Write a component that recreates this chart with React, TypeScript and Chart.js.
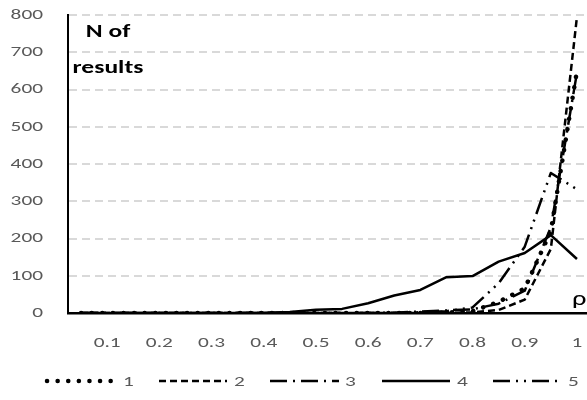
import React, { useEffect, useRef } from "react";
import { Chart, registerables } from "chart.js";

Chart.register(...registerables);

// Correlation bins on the horizontal axis (every other one is labelled)
const categories = [
  "0.05", "0.1", "0.15", "0.2", "0.25", "0.3", "0.35", "0.4", "0.45", "0.5",
  "0.55", "0.6", "0.65", "0.7", "0.75", "0.8", "0.85", "0.9", "0.95", "1",
];

// Number of results per bin for each of the five series
const series1 = [0, 0, 0, 0, 0, 0, 0, 0, 0, 0, 0, 0, 0, 0, 1, 5, 30, 66, 220, 650];
const series2 = [0, 0, 0, 0, 0, 0, 0, 0, 0, 0, 0, 0, 0, 0, 0, 2, 8, 36, 172, 795];
const series3 = [0, 0, 0, 0, 0, 0, 0, 0, 0, 0, 0, 0, 1, 4, 7, 10, 25, 60, 230, 645];
const series4 = [0, 0, 0, 0, 0, 0, 0, 1, 3, 9, 11, 26, 47, 62, 96, 99, 138, 161, 209, 145];
const series5 = [0, 0, 0, 0, 0, 0, 0, 0, 0, 0, 0, 0, 0, 2, 5, 15, 80, 178, 376, 332];

const seriesNames = ["1", "2", "3", "4", "5"];

const yMin = 0;
const yMax = 800;
const yStep = 100;

const FONT = "Carlito, Lato, 'Liberation Sans', sans-serif";
const GREY = "#595959";
// text is drawn slightly widened, like the rest of the figure
const STRETCH = 1.42;

type LineStyle = { width: number; dash: number[]; cap: CanvasLineCap };

const styles: LineStyle[] = [
  { width: 4.5, dash: [0.1, 10.5], cap: "round" },
  { width: 2.5, dash: [7, 4], cap: "butt" },
  { width: 2.5, dash: [17, 6, 2, 6], cap: "butt" },
  { width: 2.5, dash: [], cap: "butt" },
  { width: 2.5, dash: [17, 6, 2, 6, 2, 6], cap: "butt" },
];

const legendItems = [
  { x0: 47, x1: 112, tx: 123 },
  { x0: 159, x1: 227, tx: 234 },
  { x0: 270, x1: 339, tx: 345 },
  { x0: 382, x1: 450, tx: 457 },
  { x0: 493, x1: 562, tx: 568 },
];

function wideText(
  ctx: CanvasRenderingContext2D,
  text: string,
  x: number,
  y: number,
  align: CanvasTextAlign,
  font: string,
  color: string
) {
  ctx.save();
  ctx.translate(x, y);
  ctx.scale(STRETCH, 1);
  ctx.font = font;
  ctx.fillStyle = color;
  ctx.textAlign = align;
  ctx.textBaseline = "middle";
  ctx.fillText(text, 0, 0);
  ctx.restore();
}

const annotations = {
  id: "annotations",
  afterDraw(chart: Chart) {
    const ctx = chart.ctx;
    const xs: any = chart.scales.x;
    const ys: any = chart.scales.y;
    const tickFont = `15px ${FONT}`;

    // value axis labels
    ys.ticks.forEach((t: any) => {
      wideText(ctx, String(t.value), 43, ys.getPixelForValue(t.value), "right", tickFont, GREY);
    });
    // category axis labels, every other bin
    categories.forEach((c, i) => {
      if (i % 2 === 1) wideText(ctx, c, xs.getPixelForValue(i), 343, "center", tickFont, GREY);
    });

    // axis captions
    wideText(ctx, "N of", 108, 32, "center", `bold 18px ${FONT}`, "#000");
    wideText(ctx, "results", 108, 68, "center", `bold 18px ${FONT}`, "#000");
    wideText(ctx, "ρ", 572, 300, "left", `20px ${FONT}`, "#000");

    // legend
    const ly = 381;
    legendItems.forEach((it, i) => {
      const st = styles[i];
      ctx.save();
      ctx.beginPath();
      ctx.setLineDash(st.dash);
      ctx.lineCap = st.cap;
      ctx.lineWidth = st.width;
      ctx.strokeStyle = "#000";
      ctx.moveTo(it.x0, ly);
      ctx.lineTo(it.x1, ly);
      ctx.stroke();
      ctx.restore();
      wideText(ctx, seriesNames[i], it.tx, ly + 1, "left", tickFont, GREY);
    });
  },
};

export default function App() {
  const canvasRef = useRef<HTMLCanvasElement | null>(null);

  useEffect(() => {
    const canvas = canvasRef.current;
    if (!canvas) return;
    const all = [series1, series2, series3, series4, series5];
    const chart = new Chart(canvas, {
      type: "line",
      data: {
        labels: categories,
        datasets: all.map((data, i) => ({
          label: seriesNames[i],
          data,
          borderColor: "#000",
          backgroundColor: "#000",
          borderWidth: styles[i].width,
          borderDash: styles[i].dash,
          borderCapStyle: styles[i].cap,
          borderJoinStyle: "round" as CanvasLineJoin,
          pointRadius: 0,
          tension: 0,
          fill: false,
        })),
      },
      options: {
        responsive: false,
        animation: false,
        events: [],
        layout: { padding: { left: 0, right: 0, top: 15, bottom: 0 } },
        plugins: {
          legend: { display: false },
          tooltip: { enabled: false },
        },
        scales: {
          x: {
            type: "category",
            offset: true,
            grid: { display: false, drawTicks: false },
            border: { display: true, color: "#000", width: 2.5 },
            ticks: { display: false, autoSkip: false, maxRotation: 0 },
            afterFit: (s: any) => {
              s.height = 87;
            },
          },
          y: {
            min: yMin,
            max: yMax,
            grid: {
              drawTicks: false,
              lineWidth: 2,
              color: (c: any) => (c.tick && c.tick.value === 0 ? "rgba(0,0,0,0)" : "#d9d9d9"),
            },
            border: { display: true, color: "#000", width: 2, dash: [8, 5] },
            ticks: { display: false, stepSize: yStep },
            afterFit: (s: any) => {
              s.width = 68;
            },
          },
        },
      },
      plugins: [annotations],
    });
    return () => chart.destroy();
  }, []);

  return (
    <div
      style={{
        position: "fixed",
        left: 0,
        top: 0,
        width: 587,
        height: 400,
        overflow: "hidden",
        background: "#fff",
      }}
    >
      <canvas ref={canvasRef} width={590} height={400} style={{ display: "block" }} />
    </div>
  );
}
